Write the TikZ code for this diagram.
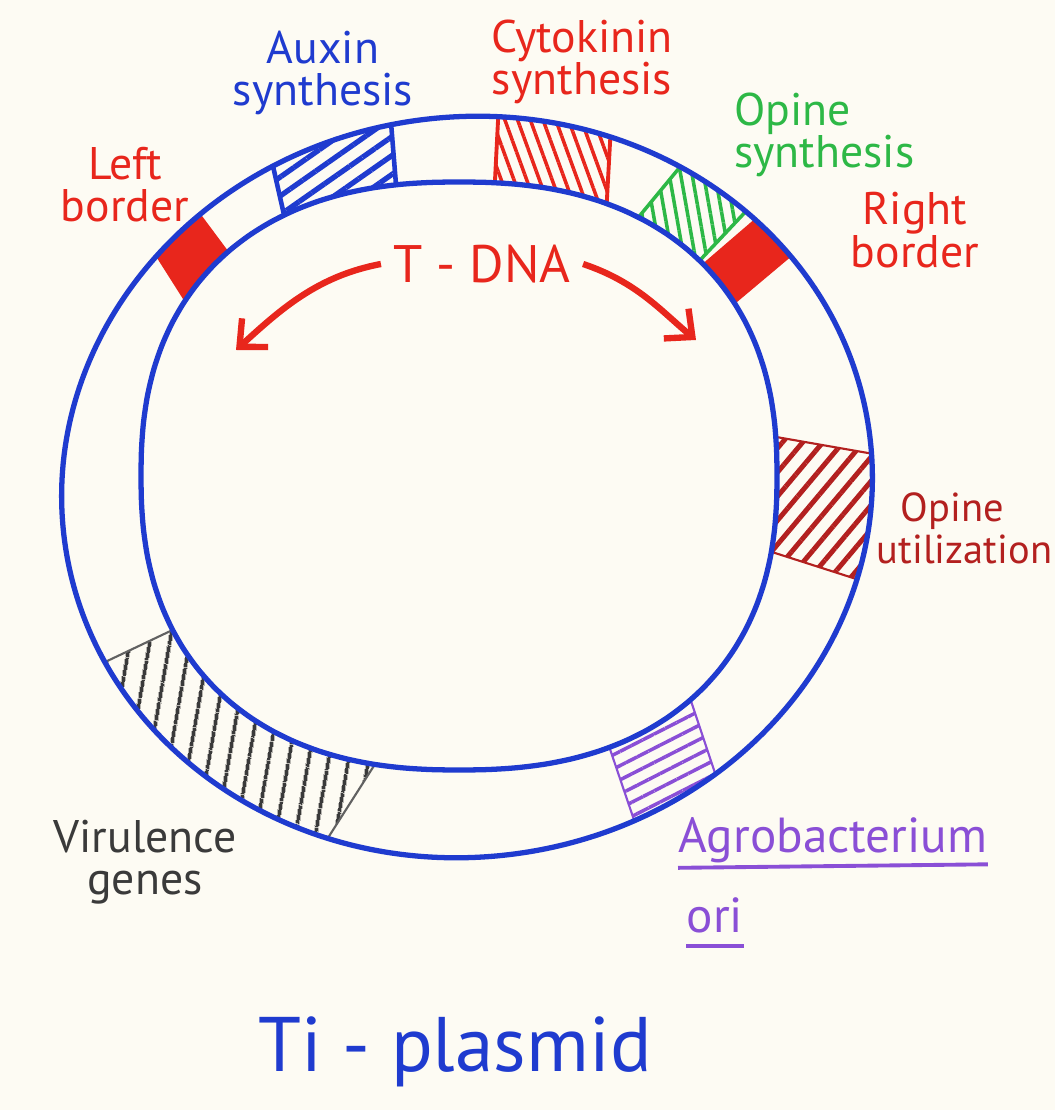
\documentclass[tikz,border=0pt]{standalone}
\usepackage{fontspec}
\setmainfont{PT Sans}
\usetikzlibrary{calc,patterns.meta,arrows.meta}

\definecolor{paper}{HTML}{FDFBF3}
\definecolor{ringblue}{HTML}{1F3BCF}
\definecolor{tred}{HTML}{E8261C}
\definecolor{tgreen}{HTML}{2DB846}
\definecolor{darkred}{HTML}{B3201F}
\definecolor{oripurple}{HTML}{8A4FD6}
\definecolor{virgrey}{HTML}{3A3A3A}

% fill style, edge style, outer a, inner a, outer b, inner b
\newcommand{\genebox}[6]{%
  \fill[#1] ($(#4)!2!(#3)$) -- ($(#3)!2!(#4)$) -- ($(#5)!2!(#6)$) -- ($(#6)!2!(#5)$) -- cycle;
  \draw[#2] ($(#4)!2!(#3)$) -- ($(#3)!2!(#4)$);
  \draw[#2] ($(#6)!2!(#5)$) -- ($(#5)!2!(#6)$);
}

\def\outerring{[rotate around={8:(467,487)}] (467,487) ellipse [x radius=406, y radius=370]}
\def\innerring{plot[domain=2.5:357.5, samples=72, smooth cycle] ({459+318*cos(\x)*abs(cos(\x))^(-0.15)}, {476-294*sin(\x)*abs(sin(\x))^(-0.15)})}

\begin{document}
\begin{tikzpicture}[x=0.01cm, y=-0.01cm,
  ring/.style={draw=ringblue, line width=1.5pt},
  genelabel/.style={font=\fontsize{13}{12}\selectfont, align=center},
  underl/.style={draw=oripurple, line width=1.1pt},
  dnaarrow/.style={draw=tred, line width=1.8pt, -{Straight Barb[length=6pt,width=11pt]}}]
  \path[use as bounding box, fill=paper] (0,0) rectangle (1055,1110);

  % gene blocks on the ring
  \begin{scope}
    \clip \outerring;
    \genebox{tred}{draw=none}{157,258}{190,310}{205,220}{237,263}
    \genebox{pattern={Lines[angle=35,distance=4.4pt,line width=1.5pt]}, pattern color=ringblue}{draw=ringblue, line width=1.3pt}{275,175}{287,228}{392,135}{397,197}
    \genebox{pattern={Lines[angle=110,distance=3.4pt,line width=1pt]}, pattern color=tred}{draw=tred, line width=1.1pt}{498,121}{495,180}{610,143}{607,198}
    \genebox{pattern={Lines[angle=100,distance=3.2pt,line width=1pt]}, pattern color=tgreen}{draw=tgreen, line width=1pt}{680,167}{642,213}{750,207}{703,257}
    \genebox{tred}{draw=none}{757,217}{707,260}{793,255}{743,297}
    \genebox{pattern={Lines[angle=50,distance=4.4pt,line width=1.4pt]}, pattern color=darkred}{draw=darkred, line width=0.6pt}{868,453}{782,438}{850,577}{775,553}
    \genebox{pattern={Lines[angle=27,distance=3.6pt,line width=1pt]}, pattern color=oripurple}{draw=oripurple, line width=0.6pt}{713,767}{693,707}{633,817}{613,758}
    \genebox{pattern={Lines[angle=80,distance=5.4pt,line width=1pt]}, pattern color=virgrey}{draw=virgrey!80, line width=0.6pt}{333,830}{370,772}{103,663}{162,635}
  \end{scope}
  \fill[paper] \innerring;
  \draw[ring] \outerring;
  \draw[ring] \innerring;

  % labels
  \node[genelabel, text=tred] (leftborder) at (125,185) {Left\\border};
  \node[genelabel, text=ringblue] (auxin) at (323,73) {Auxin\\synthesis};
  \node[genelabel, text=tred] (cytokinin) at (582,62) {Cytokinin\\synthesis};
  \node[genelabel, text=tgreen, align=left, anchor=west] (opinesyn) at (722,135) {Opine\\synthesis};
  \node[genelabel, text=tred] (rightborder) at (915,230) {Right\\border};
  \node[genelabel, text=darkred, align=left, anchor=west, inner sep=0pt, font=\fontsize{11.5}{12}\selectfont] (opineutil) at (876,528) {\hspace*{0.6em}Opine\\utilization};
  \node[genelabel, text=virgrey] (virulence) at (145,862) {Virulence\\genes};
  \node[text=oripurple, anchor=base west, inner sep=0pt, font=\fontsize{14}{16}\selectfont] (agro) at (678,852) {Agrobacterium};
  \node[text=oripurple, anchor=base west, inner sep=0pt, font=\fontsize{14}{16}\selectfont] (orinode) at (686,932) {ori};
  \draw[underl] ([yshift=-4.5pt]agro.base west) -- ([yshift=-3.5pt]agro.base east);
  \draw[underl] ([yshift=-4pt]orinode.base west) -- ([yshift=-4pt]orinode.base east);

  % T-DNA span
  \node[text=tred, font=\fontsize{15}{15}\selectfont] (tdna) at (482,264) {T - DNA};
  \coordinate (lefttip) at (236,350);
  \coordinate (righttip) at (696,340);
  \draw[dnaarrow] (tdna.west) .. controls (317,276) and (280,310) .. (lefttip);
  \draw[dnaarrow] (tdna.east) .. controls (637,282) and (661,311) .. (righttip);

  \node[text=ringblue, font=\fontsize{22}{26}\selectfont] (title) at (455,1052) {Ti - plasmid};
\end{tikzpicture}
\end{document}
